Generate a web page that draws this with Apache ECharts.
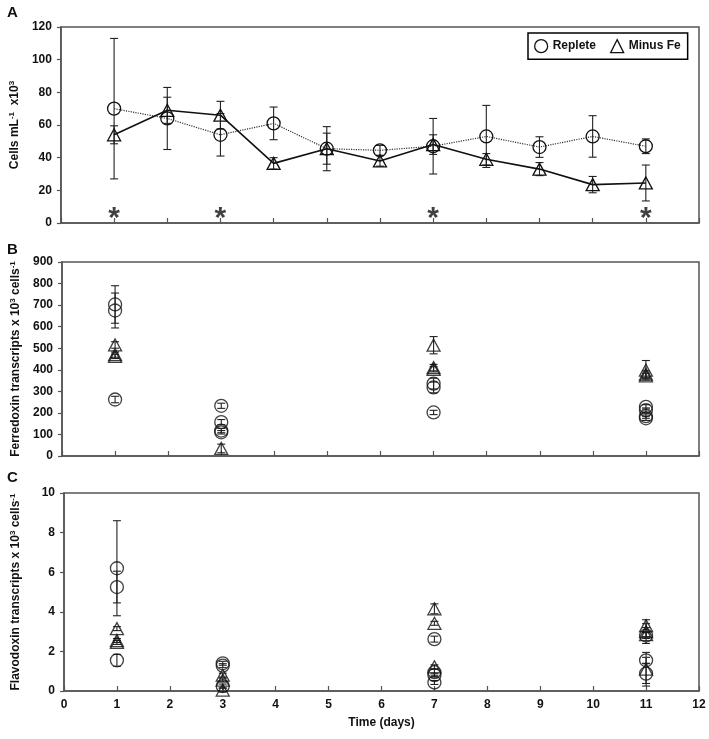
<!DOCTYPE html>
<html><head><meta charset="utf-8">
<script src="https://cdn.jsdelivr.net/npm/echarts/dist/echarts.min.js"></script>
<style>html,body{margin:0;padding:0;background:#fff}#c{width:709px;height:739px}</style>
</head><body><div id="c"></div>
<script>
// ---------- Panel A: cell counts (Cells mL-1 x10^3) ----------
const days = [1, 2, 3, 4, 5, 6, 7, 8, 9, 10, 11];
const repleteCells    = [70, 64, 54, 61, 45.5, 44.5, 47, 53, 46.5, 53, 47];
const repleteCellsErr = [43, 19, 13, 10, 9.5, 3, 17, 19, 6.3, 12.7, 4.5];
const minusFeCells    = [54, 69, 66, 36.5, 45.5, 38, 48, 39, 33, 23.5, 24.5];
const minusFeCellsErr = [5.5, 8, 8.5, 3.5, 13.5, 3.2, 6, 3.5, 4, 5, 11];
const sigDays = [1, 3, 7, 11];
const sigLevel = 5;

// ---------- Panel B: ferredoxin transcripts [day, mean, sd] ----------
const fdReplete = [
  [1, 703, 87], [1, 675, 81], [1, 262, 15],
  [3, 233, 12], [3, 157, 12], [3, 118, 10], [3, 110, 8],
  [7, 336, 25], [7, 318, 25], [7, 202, 10],
  [11, 228, 10], [11, 213, 10], [11, 185, 10], [11, 175, 10]
];
const fdMinusFe = [
  [1, 515, 15], [1, 470, 12], [1, 462, 10],
  [3, 35, 20],
  [7, 514, 40], [7, 410, 15], [7, 402, 12],
  [11, 398, 45], [11, 380, 15], [11, 372, 12]
];

// ---------- Panel C: flavodoxin transcripts [day, mean, sd] ----------
const fldReplete = [
  [1, 6.2, 2.4], [1, 5.25, 0.8], [1, 1.55, 0.3],
  [3, 1.4, 0.1], [3, 1.28, 0.1], [3, 0.25, 0.1],
  [7, 2.62, 0.15], [7, 0.95, 0.15], [7, 0.8, 0.1], [7, 0.43, 0.1],
  [11, 2.8, 0.15], [11, 1.55, 0.15], [11, 0.88, 0.5]
];
const fldMinusFe = [
  [1, 3.15, 0.1], [1, 2.55, 0.1], [1, 2.45, 0.1],
  [3, 0.8, 0.1], [3, 0.55, 0.1], [3, 0.05, 0.1],
  [7, 4.15, 0.25], [7, 3.42, 0.1], [7, 1.22, 0.1],
  [11, 3.3, 0.1], [11, 3.0, 0.6], [11, 2.85, 0.1], [11, 1.1, 0.85]
];

const xTicks = [0,1,2,3,4,5,6,7,8,9,10,11,12];

const NARROW = "'Liberation Sans Narrow','Liberation Sans',Arial,sans-serif";
const SANS = "'Liberation Sans',Arial,sans-serif";
const INK = '#111';
const AX = '#555';

const hollow = {color: 'rgba(0,0,0,0)', borderColor: INK, borderWidth: 1.3};

function errData(means, errs) {
  return days.map((d, i) => [d, means[i] - errs[i], means[i] + errs[i]]);
}
function errDataTriples(arr) {
  return arr.map(p => [p[0], p[1] - p[2], p[1] + p[2]]);
}
function errSeries(data, idx) {
  return {
    type: 'custom', xAxisIndex: idx, yAxisIndex: idx, z: 2, silent: true,
    encode: {x: 0, y: [1, 2]},
    data: data,
    renderItem: function (params, api) {
      const x = api.value(0), lo = api.value(1), hi = api.value(2);
      const a = api.coord([x, lo]), b = api.coord([x, hi]);
      const cw = 4;
      const st = {stroke: '#222', lineWidth: 1.1};
      return {type: 'group', children: [
        {type: 'line', shape: {x1: a[0], y1: a[1], x2: b[0], y2: b[1]}, style: st},
        {type: 'line', shape: {x1: a[0] - cw, y1: a[1], x2: a[0] + cw, y2: a[1]}, style: st},
        {type: 'line', shape: {x1: b[0] - cw, y1: b[1], x2: b[0] + cw, y2: b[1]}, style: st}
      ]};
    }
  };
}

const grids = [
  {left: 60, right: 10, top: 27, height: 196},
  {left: 62, right: 10, top: 262, height: 194},
  {left: 64, right: 10, top: 493, height: 198}
].map(g => Object.assign(g, {show: true, borderColor: AX, borderWidth: 1.5, containLabel: false}));

function xAxis(idx, labels) {
  return {
    type: 'value', gridIndex: idx, min: 0, max: 12, interval: 1,
    axisLine: {show: true, lineStyle: {color: AX, width: 1.5}},
    axisTick: {show: true, inside: true, length: 5, lineStyle: {color: AX, width: 1.2}},
    splitLine: {show: false},
    axisLabel: {show: labels, margin: 8, fontFamily: NARROW, fontWeight: 'bold', fontSize: 12, color: INK,
      formatter: v => xTicks.includes(v) ? String(v) : ''},
    name: labels ? 'Time (days)' : '', nameLocation: 'middle', nameGap: 26,
    nameTextStyle: {fontFamily: NARROW, fontWeight: 'bold', fontSize: 12, color: INK}
  };
}
const richName = {
  t: {fontFamily: SANS, fontWeight: 'bold', fontSize: 12, color: INK, lineHeight: 14},
  s: {fontFamily: SANS, fontWeight: 'bold', fontSize: 8, color: INK, lineHeight: 14, verticalAlign: 'top'}
};
function yAxis(idx, max, interval, name, gap) {
  return {
    type: 'value', gridIndex: idx, min: 0, max: max, interval: interval,
    axisLine: {show: true, lineStyle: {color: AX, width: 1.5}},
    axisTick: {show: true, inside: false, length: 4, lineStyle: {color: AX, width: 1.2}},
    splitLine: {show: false},
    axisLabel: {margin: 9, fontFamily: NARROW, fontWeight: 'bold', fontSize: 12, color: INK},
    name: name, nameLocation: 'middle', nameRotate: 90, nameGap: gap,
    nameTextStyle: {rich: richName}
  };
}

const series = [
  // Panel A
  errSeries(errData(repleteCells, repleteCellsErr), 0),
  errSeries(errData(minusFeCells, minusFeCellsErr), 0),
  {
    name: 'Replete', type: 'line', xAxisIndex: 0, yAxisIndex: 0, z: 3,
    data: days.map((d, i) => [d, repleteCells[i]]),
    symbol: 'circle', symbolSize: 13, itemStyle: hollow,
    lineStyle: {color: '#333', width: 1.2, type: 'dotted'},
    emphasis: {disabled: true}, silent: true
  },
  {
    name: 'Minus Fe', type: 'line', xAxisIndex: 0, yAxisIndex: 0, z: 3,
    data: days.map((d, i) => [d, minusFeCells[i]]),
    symbol: 'triangle', symbolSize: [13, 12], itemStyle: hollow,
    lineStyle: {color: INK, width: 1.6},
    emphasis: {disabled: true}, silent: true
  },
  {
    type: 'scatter', xAxisIndex: 0, yAxisIndex: 0, z: 4, silent: true,
    data: sigDays.map(d => [d, sigLevel]),
    symbolSize: 1, itemStyle: {color: 'rgba(0,0,0,0)'},
    label: {show: true, position: 'inside', formatter: '*', offset: [0, 4],
      fontFamily: SANS, fontWeight: 'bold', fontSize: 30, color: INK}
  },
  // Panel B
  errSeries(errDataTriples(fdReplete), 1),
  errSeries(errDataTriples(fdMinusFe), 1),
  {
    name: 'Replete', type: 'scatter', xAxisIndex: 1, yAxisIndex: 1, z: 3, silent: true,
    data: fdReplete.map(p => [p[0], p[1]]),
    symbol: 'circle', symbolSize: 13, itemStyle: hollow
  },
  {
    name: 'Minus Fe', type: 'scatter', xAxisIndex: 1, yAxisIndex: 1, z: 3, silent: true,
    data: fdMinusFe.map(p => [p[0], p[1]]),
    symbol: 'triangle', symbolSize: [13, 12], itemStyle: hollow
  },
  // Panel C
  errSeries(errDataTriples(fldReplete), 2),
  errSeries(errDataTriples(fldMinusFe), 2),
  {
    name: 'Replete', type: 'scatter', xAxisIndex: 2, yAxisIndex: 2, z: 3, silent: true,
    data: fldReplete.map(p => [p[0], p[1]]),
    symbol: 'circle', symbolSize: 13, itemStyle: hollow
  },
  {
    name: 'Minus Fe', type: 'scatter', xAxisIndex: 2, yAxisIndex: 2, z: 3, silent: true,
    data: fldMinusFe.map(p => [p[0], p[1]]),
    symbol: 'triangle', symbolSize: [13, 12], itemStyle: hollow
  }
];

const chart = echarts.init(document.getElementById('c'), null, {renderer: 'canvas'});
chart.setOption({
  backgroundColor: '#fff',
  animation: false,
  grid: grids,
  xAxis: [xAxis(0, false), xAxis(1, false), xAxis(2, true)],
  yAxis: [
    yAxis(0, 120, 20, '{t|Cells mL}{s|-1}{t|  x10}{s|3}', 36),
    yAxis(1, 900, 100, '{t|Ferredoxin transcripts x 10}{s|3}{t| cells}{s|-1}', 38),
    yAxis(2, 10, 2, '{t|Flavodoxin transcripts x 10}{s|3}{t| cells}{s|-1}', 41)
  ],
  legend: {
    left: 528, top: 33, orient: 'horizontal',
    data: [
      {name: 'Replete', icon: 'circle', itemStyle: hollow},
      {name: 'Minus Fe', icon: 'triangle', itemStyle: hollow}
    ],
    itemWidth: 13, itemHeight: 13, itemGap: 14, itemStyle: hollow,
    borderColor: '#000', borderWidth: 1.5, padding: [6, 7, 6, 6],
    backgroundColor: '#fff', selectedMode: false,
    textStyle: {fontFamily: NARROW, fontWeight: 'bold', fontSize: 12, color: INK}
  },
  graphic: [
    {type: 'text', left: 7, top: 5, style: {text: 'A', fontFamily: SANS, fontWeight: 'bold', fontSize: 15, fill: INK}},
    {type: 'text', left: 7, top: 242, style: {text: 'B', fontFamily: SANS, fontWeight: 'bold', fontSize: 15, fill: INK}},
    {type: 'text', left: 7, top: 470, style: {text: 'C', fontFamily: SANS, fontWeight: 'bold', fontSize: 15, fill: INK}}
  ],
  series: series
});
</script>
</body></html>
